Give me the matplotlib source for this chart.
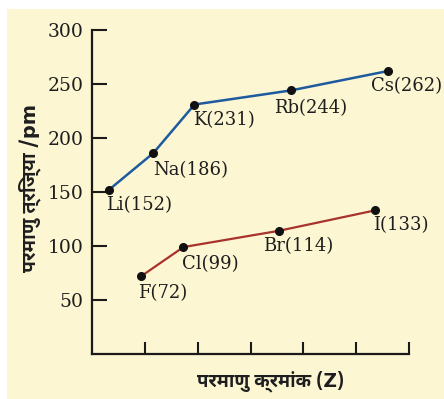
import matplotlib
matplotlib.use("Agg")
import matplotlib.pyplot as plt
from matplotlib.patches import Rectangle

# क्षार धातु (alkali metals)
alkali_names = ["Li", "Na", "K", "Rb", "Cs"]
alkali_x = [0.32, 1.16, 1.94, 3.76, 5.60]
alkali_r = [152, 186, 231, 244, 262]

# हैलोजन (halogens)
halogen_names = ["F", "Cl", "Br", "I"]
halogen_x = [0.93, 1.73, 3.53, 5.36]
halogen_r = [72, 99, 114, 133]

y_ticks = [50, 100, 150, 200, 250, 300]
x_ticks = [1, 2, 3, 4, 5, 6]

ylabel = "परमाणु त्रिज्या /pm"
xlabel = "परमाणु क्रमांक (Z)"

# label offsets in pixels (dx, dy) from each point
alkali_off = [(-3, -15), (0, -17), (-1, -16), (-17, -18), (-17, -15)]
halogen_off = [(-3, -17), (-1, -17), (-15, -15), (-2, -15)]

bg = "#fcf6d3"
serif = "DejaVu Serif"
deva = ["Noto Sans Devanagari UI", "DejaVu Sans"]

fig = plt.figure(figsize=(4.44, 3.99), dpi=100)
fig.patch.set_facecolor("white")
fig.patches.append(Rectangle((7 / 444, 0), 1, 1 - 9 / 399, transform=fig.transFigure,
                             facecolor=bg, edgecolor="none", zorder=-10))

ax = fig.add_axes([92 / 444, 1 - 354 / 399, 317 / 444, 324 / 399])
ax.set_facecolor("none")
ax.set_zorder(5)
ax.set_xlim(0, 6)
ax.set_ylim(0, 300)

for s in ["top", "right"]:
    ax.spines[s].set_visible(False)
for s in ["left", "bottom"]:
    ax.spines[s].set_linewidth(1.6)
    ax.spines[s].set_color("#1a1a1a")

ax.set_yticks(y_ticks)
ax.set_yticklabels([str(v) for v in y_ticks], fontfamily=serif, fontsize=13.5, color="#1e1e1e")
ax.set_xticks(x_ticks)
ax.set_xticklabels([])
ax.tick_params(axis="y", direction="in", length=10.5, width=1.5, pad=6, color="#1a1a1a")
ax.tick_params(axis="x", direction="in", length=8.5, width=1.5, color="#1a1a1a")

ax.plot(alkali_x, alkali_r, color="#1d5a9e", lw=1.8, marker="o", ms=5.5,
        mfc="#111111", mec="#111111", clip_on=False)
ax.plot(halogen_x, halogen_r, color="#a8322c", lw=1.6, marker="o", ms=5.5,
        mfc="#111111", mec="#111111", clip_on=False)

for names, xs, rs, offs in [(alkali_names, alkali_x, alkali_r, alkali_off),
                            (halogen_names, halogen_x, halogen_r, halogen_off)]:
    for n, x, r, o in zip(names, xs, rs, offs):
        ax.annotate(f"{n}({r})", (x, r), xytext=o, textcoords="offset pixels",
                    ha="left", va="center", fontfamily=serif, fontsize=13,
                    color="#1e1e1e")

fig.text(30 / 444, 1 - 188 / 399, ylabel, rotation=90, ha="center", va="center",
         family=deva, fontweight="bold", fontsize=14, color="#1e1e1e")
fig.text(271 / 444, 1 - 381 / 399, xlabel, ha="center", va="center",
         family=deva, fontweight="bold", fontsize=13.5, color="#1e1e1e")

fig.savefig("out.png", dpi=100)
